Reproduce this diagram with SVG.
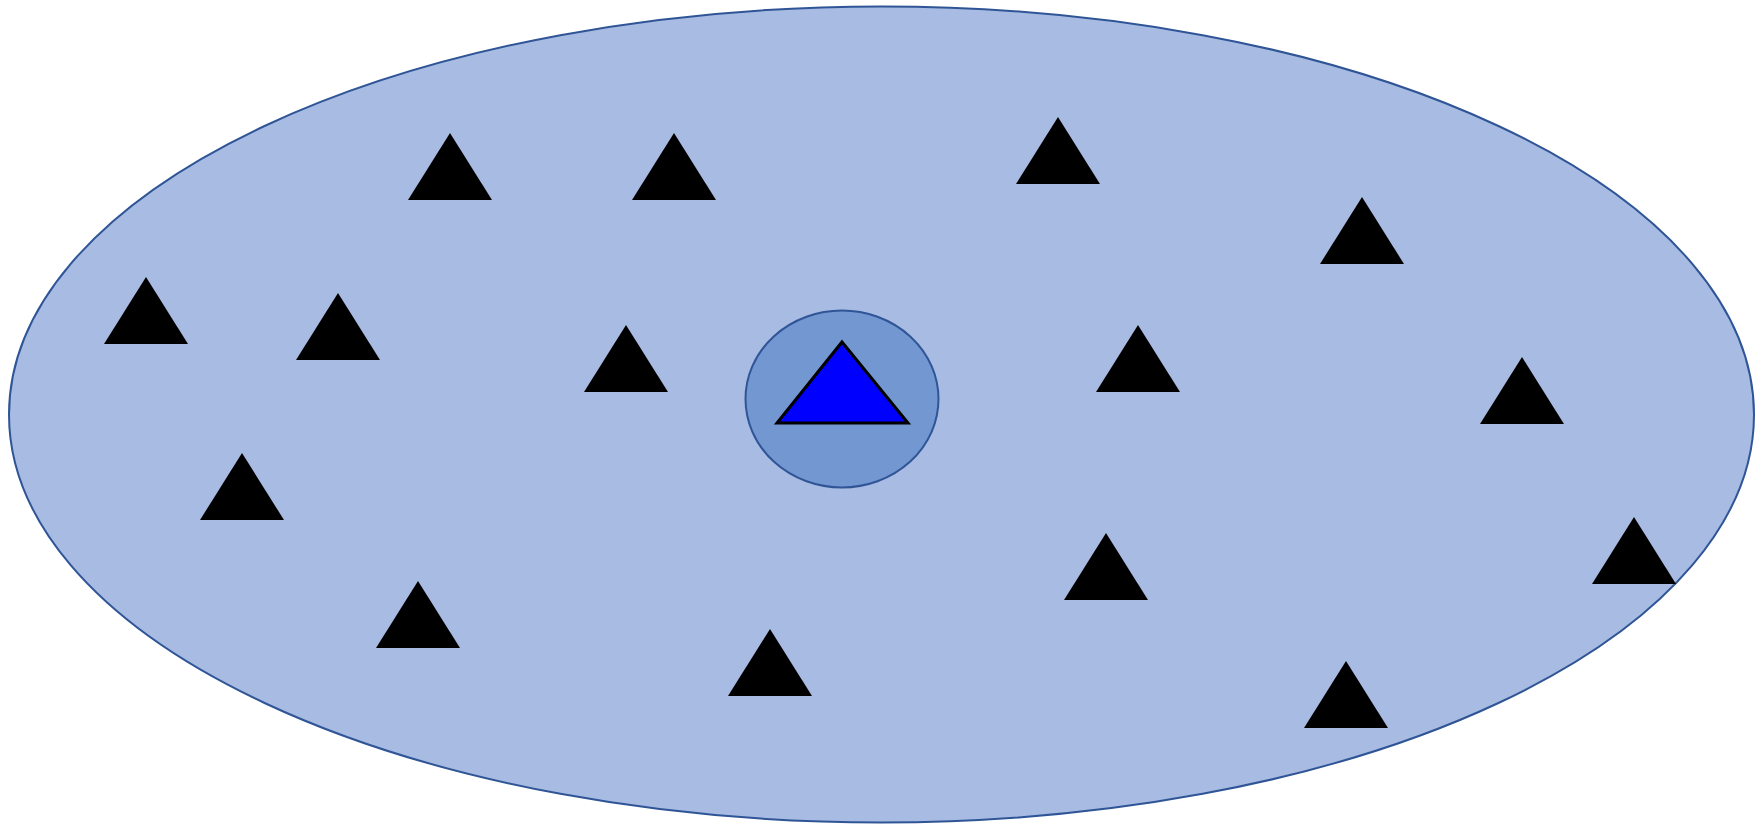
<svg xmlns="http://www.w3.org/2000/svg" width="1762" height="824" viewBox="0 0 1762 824">
<defs>
<style>
.outer{fill:#A8BBE2;stroke:#2F5597;stroke-width:2}
.inner{fill:#7397D1;stroke:#2F5597;stroke-width:2}
.tri{fill:#000000}
.hub{fill:#0000FF;stroke:#000000;stroke-width:3;stroke-linejoin:miter}
</style>
<polygon id="t" class="tri" points="0,0 42,67 -42,67"/>
</defs>
<g id="population">
<ellipse class="outer" cx="881.5" cy="414.5" rx="872.5" ry="408"/>
</g>
<g id="members">
<use href="#t" x="146" y="277"/>
<use href="#t" x="338" y="293"/>
<use href="#t" x="242" y="453"/>
<use href="#t" x="450" y="133"/>
<use href="#t" x="418" y="581"/>
<use href="#t" x="674" y="133"/>
<use href="#t" x="626" y="325"/>
<use href="#t" x="770" y="629"/>
<use href="#t" x="1058" y="117"/>
<use href="#t" x="1362" y="197"/>
<use href="#t" x="1138" y="325"/>
<use href="#t" x="1106" y="533"/>
<use href="#t" x="1522" y="357"/>
<use href="#t" x="1346" y="661"/>
<use href="#t" x="1634" y="517"/>
</g>
<g id="center">
<ellipse class="inner" cx="842" cy="399" rx="96.5" ry="88.5"/>
<polygon class="hub" points="842,342 908,423 777,423"/>
</g>
<g id="connectors"></g>
</svg>
